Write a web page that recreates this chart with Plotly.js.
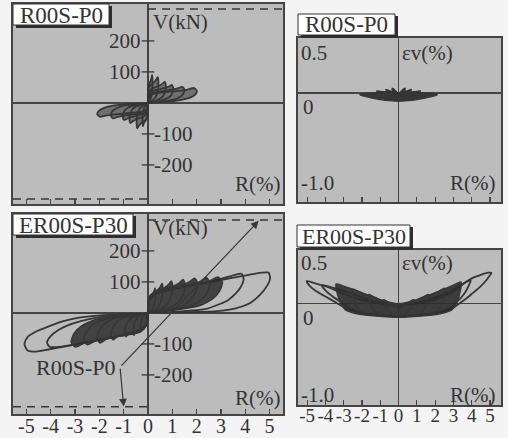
<!DOCTYPE html>
<html>
<head>
<meta charset="utf-8">
<script src="https://cdn.plot.ly/plotly-3.0.1.min.js"></script>
<style>html,body{margin:0;padding:0;background:#f4f4f4;}#plot{width:508px;height:438px;}</style>
</head>
<body>
<div id="plot"></div>
<script>
// ---------- DATA ----------
const xTicks = [-5,-4,-3,-2,-1,0,1,2,3,4,5];
const xTickTextC = ['-5','-4','-3','-2','-1','0','1','2','3','4','5'];
const vTickVals = [200,100,-100,-200];
const vTickText = ['200','100','-100','-200'];
const vTickR = [0,0,0,0];

// Panel A: R00S-P0, V (kN) vs R (%)
const a_R = [
 0,0.004,0.018,0.063,0.117,0.153,0.173,0.184,0.176,0.158,0.126,0.081,0.036,0,-0.004,-0.022,-0.077,-0.143,-0.187,-0.211,-0.224,-0.216,-0.194,-0.154,-0.099,-0.044,0,null,
 0,0.008,0.042,0.147,0.273,0.357,0.403,0.428,0.412,0.37,0.294,0.189,0.084,0,-0.009,-0.046,-0.161,-0.299,-0.391,-0.442,-0.469,-0.451,-0.405,-0.322,-0.207,-0.092,0,null,
 0,0.014,0.072,0.252,0.468,0.612,0.691,0.734,0.706,0.634,0.504,0.324,0.144,0,-0.015,-0.075,-0.263,-0.488,-0.638,-0.72,-0.765,-0.735,-0.66,-0.525,-0.338,-0.15,0,null,
 0,0.02,0.1,0.357,0.663,0.867,0.979,1.04,1.0,0.898,0.714,0.459,0.204,0,-0.02,-0.1,-0.357,-0.663,-0.867,-0.979,-1.04,-1.0,-0.898,-0.714,-0.459,-0.204,0,null,
 0,0.03,0.147,0.515,0.956,1.25,1.41,1.5,1.44,1.29,1.03,0.66,0.29,0,-0.03,-0.15,-0.525,-0.975,-1.275,-1.44,-1.53,-1.47,-1.32,-1.05,-0.675,-0.3,0,null,
 0,0.04,0.197,0.69,1.28,1.67,1.89,2.01,1.93,1.73,1.38,0.89,0.39,0,-0.04,-0.205,-0.718,-1.33,-1.74,-1.97,-2.09,-2.01,-1.8,-1.44,-0.92,-0.41,0
];
const a_V = [
 0,36,54,65,74,83,90,72,50,32,18,9,4,0,-30,-45,-54,-62,-69,-75,-60,-41,-26,-15,-8,-3,0,null,
 0,34,50,60,69,77,84,67,46,29,17,8,3,0,-33,-49,-59,-67,-75,-82,-66,-45,-29,-16,-8,-3,0,null,
 0,27,41,49,56,63,68,54,37,24,14,7,3,0,-26,-39,-47,-53,-60,-65,-52,-36,-23,-13,-7,-3,0,null,
 0,23,35,42,48,53,58,46,32,20,12,6,2,0,-22,-33,-40,-45,-51,-55,-44,-30,-19,-11,-6,-2,0,null,
 0,21,31,37,43,48,52,42,29,18,10,5,2,0,-20,-30,-36,-41,-46,-50,-40,-28,-18,-10,-5,-2,0,null,
 0,19,29,35,39,44,48,38,26,17,10,5,2,0,-18,-27,-32,-37,-41,-45,-36,-25,-16,-9,-5,-2,0
];

// Panel B: R00S-P0, volumetric strain (%) vs R (%)
const b_R = [
 0,0.5,1.0,1.5,1.9,2.12,1.9,1.5,1.0,0.5,0,-0.5,-1.0,-1.5,-1.9,-2.12,-1.9,-1.5,-1.0,-0.5,0,null,
 0,0.6,1.0,1.2,1.0,0.6,0,-0.6,-1.0,-1.2,-1.0,-0.6,0,null,
 0,0.4,0.6,0.7,0.55,0.3,0,-0.3,-0.55,-0.7,-0.6,-0.4,0,null,
 0,0.2,0.32,0.36,0.25,0.1,0,-0.1,-0.25,-0.36,-0.32,-0.2,0
];
const b_E = [
 -0.075,-0.07,-0.06,-0.045,-0.03,-0.015,-0.003,0,0.008,0.012,0,0.012,0.008,0,-0.003,-0.015,-0.03,-0.045,-0.06,-0.07,-0.075,null,
 -0.06,-0.05,-0.03,0.02,0.015,0.005,-0.01,0.005,0.015,0.02,-0.03,-0.05,-0.06,null,
 -0.06,-0.04,-0.01,0.035,0.025,0.01,-0.005,0.01,0.025,0.035,-0.01,-0.04,-0.06,null,
 -0.05,-0.03,0,0.045,0.035,0.01,0,0.01,0.035,0.045,0,-0.03,-0.05
];

// Panel C: ER00S-P30, V (kN) vs R (%) — dense inner cycles
const c_in_R = [
 0,0.006,0.03,0.105,0.195,0.255,0.288,0.306,0.294,0.264,0.21,0.135,0.06,0,-0.006,-0.03,-0.105,-0.195,-0.255,-0.288,-0.306,-0.294,-0.264,-0.21,-0.135,-0.06,0,null,
 0,0.012,0.06,0.21,0.39,0.51,0.576,0.612,0.588,0.528,0.42,0.27,0.12,0,-0.012,-0.06,-0.21,-0.39,-0.51,-0.576,-0.612,-0.588,-0.528,-0.42,-0.27,-0.12,0,null,
 0,0.02,0.1,0.35,0.65,0.85,0.96,1.02,0.98,0.88,0.7,0.45,0.2,0,-0.019,-0.095,-0.333,-0.618,-0.808,-0.912,-0.969,-0.931,-0.836,-0.665,-0.428,-0.19,0,null,
 0,0.03,0.15,0.525,0.975,1.275,1.44,1.53,1.47,1.32,1.05,0.675,0.3,0,-0.03,-0.15,-0.525,-0.975,-1.275,-1.44,-1.53,-1.47,-1.32,-1.05,-0.675,-0.3,0,null,
 0,0.04,0.2,0.7,1.3,1.7,1.92,2.04,1.96,1.76,1.4,0.9,0.4,0,-0.041,-0.205,-0.718,-1.333,-1.743,-1.968,-2.091,-2.009,-1.804,-1.435,-0.923,-0.41,0,null,
 0,0.05,0.25,0.875,1.625,2.125,2.4,2.55,2.45,2.2,1.75,1.125,0.5,0,-0.052,-0.26,-0.91,-1.69,-2.21,-2.496,-2.652,-2.548,-2.288,-1.82,-1.17,-0.52,0,null,
 0,0.06,0.3,1.05,1.95,2.55,2.88,3.06,2.94,2.64,2.1,1.35,0.6,0,-0.062,-0.31,-1.085,-2.015,-2.635,-2.976,-3.162,-3.038,-2.728,-2.17,-1.395,-0.62,0
];
const c_in_V = [
 0,28,44,54,62,71,80,68,48,30,16,8,3,0,-21,-33,-40,-47,-53,-60,-51,-36,-23,-12,-6,-2,0,null,
 0,33,52,64,74,85,95,81,57,36,19,10,4,0,-25,-40,-48,-56,-64,-72,-61,-43,-27,-14,-7,-3,0,null,
 0,36,57,69,80,92,103,88,62,39,21,10,4,0,-27,-42,-52,-60,-69,-77,-65,-46,-29,-15,-8,-3,0,null,
 0,38,59,72,84,96,108,92,65,41,22,11,4,0,-30,-48,-58,-68,-77,-87,-74,-52,-33,-17,-9,-3,0,null,
 0,39,62,75,87,100,112,95,67,43,22,11,4,0,-34,-53,-65,-76,-86,-97,-82,-58,-37,-19,-10,-4,0,null,
 0,40,63,76,89,101,114,97,68,43,23,11,5,0,-36,-57,-69,-80,-92,-103,-88,-62,-39,-21,-10,-4,0,null,
 0,41,64,78,90,103,116,99,70,44,23,12,5,0,-39,-61,-74,-86,-98,-110,-94,-66,-42,-22,-11,-4,0
];
// Panel C: large-amplitude cycles
const c_out_R = [
 0,0.05,0.3,0.9,1.7,2.5,3.1,3.55,3.85,3.93,3.8,3.6,3.3,2.9,2.4,1.7,1.0,0.4,0,
 -0.05,-0.3,-0.9,-1.7,-2.5,-3.2,-3.7,-4.05,-4.15,-4.0,-3.7,-3.3,-2.8,-2.1,-1.4,-0.7,0,null,
 0,0.05,0.3,0.9,1.7,2.6,3.4,4.1,4.6,4.95,5.02,4.9,4.6,4.2,3.6,2.85,2.0,1.0,0,
 -0.05,-0.3,-0.9,-1.7,-2.6,-3.4,-4.1,-4.6,-4.95,-5.08,-4.95,-4.6,-4.1,-3.4,-2.6,-1.8,-1.0,0
];
const c_out_V = [
 0,40,62,75,88,100,112,122,126,108,82,62,42,27,13,7,3,1,0,
 -35,-58,-70,-82,-94,-104,-110,-109,-95,-75,-56,-40,-27,-15,-8,-3,0,null,
 0,40,62,75,88,100,112,122,129,130,112,88,58,32,15,6,3,1,0,
 -35,-58,-70,-82,-96,-108,-118,-125,-121,-100,-78,-60,-44,-25,-13,-7,-3,0
];
const capC_Rpos = [0,5.55], capC_Vpos = [300,300];
const capC_Rneg = [-5.55,0], capC_Vneg = [-303,-303];
const capA_Rpos = [0,5.55], capA_Vpos = [303,303];
const capA_Rneg = [-5.55,0], capA_Vneg = [-310,-310];
const arrowTail = [-1.15,-175];
const arrowHead1 = [4.55,297];
const arrowHead2 = [-1.0,-302];
const refLabelPos = [-3.0,-175];

// Panel D: ER00S-P30, volumetric strain (%) vs R (%)
const d_in_R = [
 0,0.3,0.55,0.75,0.82,0.7,0.45,0.2,0,-0.2,-0.45,-0.7,-0.82,-0.75,-0.55,-0.3,0,null,
 0,0.6,1.2,1.5,1.62,1.4,0.9,0.4,0,-0.4,-0.9,-1.4,-1.62,-1.5,-1.2,-0.6,0,null,
 0,0.9,1.7,2.2,2.45,2.52,2.2,1.5,0.7,0,-0.7,-1.5,-2.2,-2.52,-2.45,-2.2,-1.7,-0.9,0,null,
 0,1.2,2.2,2.9,3.25,3.42,3.0,2.2,1.2,0,-1.2,-2.2,-3.0,-3.42,-3.25,-2.9,-2.2,-1.2,0
];
const d_in_E = [
 -0.12,-0.11,-0.07,-0.01,0.04,0.03,0.0,-0.03,-0.04,-0.03,0.0,0.03,0.04,-0.01,-0.07,-0.11,-0.12,null,
 -0.13,-0.12,-0.09,-0.02,0.09,0.07,0.03,-0.01,-0.02,-0.01,0.03,0.07,0.09,-0.02,-0.09,-0.12,-0.13,null,
 -0.13,-0.12,-0.1,-0.05,0.04,0.15,0.12,0.07,0.02,-0.01,0.02,0.07,0.12,0.14,0.04,-0.05,-0.1,-0.12,-0.13,null,
 -0.13,-0.12,-0.1,-0.06,0.04,0.21,0.18,0.12,0.05,0.0,0.05,0.12,0.17,0.19,0.04,-0.06,-0.1,-0.12,-0.13
];
const d_out_R = [
 0,1.0,2.0,2.8,3.3,3.7,4.1,4.5,4.85,5.08,4.9,4.5,4.05,3.6,3.2,2.6,1.8,1.0,0,
 -1.0,-1.8,-2.6,-3.3,-4.0,-4.6,-5.03,-4.85,-4.5,-4.0,-3.4,-2.8,-2.0,-1.0,0,null,
 0,1.0,2.0,2.7,3.2,3.6,3.85,3.95,3.7,3.2,2.6,1.8,1.0,0,
 -1.0,-1.8,-2.6,-3.3,-3.9,-4.2,-4.0,-3.6,-3.1,-2.6,-2.0,-1.0,0
];
const d_out_E = [
 -0.12,-0.11,-0.09,-0.06,0.0,0.05,0.11,0.17,0.24,0.3,0.3,0.28,0.25,0.2,0.14,0.08,0.03,0.0,-0.02,
 0.0,0.03,0.07,0.12,0.17,0.2,0.22,0.17,0.12,0.07,0.01,-0.05,-0.09,-0.11,-0.12,null,
 -0.12,-0.11,-0.09,-0.05,0.02,0.1,0.18,0.23,0.21,0.16,0.1,0.05,0.01,-0.01,
 0.01,0.05,0.1,0.14,0.17,0.18,0.13,0.07,0.01,-0.05,-0.09,-0.11,-0.12
];

// ---------- STYLE ----------
const INK = '#363636';
const SERIF = '"Liberation Serif", "Times New Roman", Times, "DejaVu Serif", serif';
const W = 508, H = 438;
const px = v => v / W, py = v => 1 - v / H;

function loop(x, y, xa, ya, opts) {
  return Object.assign({
    x: x, y: y, xaxis: xa, yaxis: ya, type: 'scatter', mode: 'lines',
    line: {color: INK, width: 1.8, shape: 'spline', smoothing: 0.7},
    connectgaps: false, hoverinfo: 'skip'
  }, opts || {});
}
function dashed(x, y, xa, ya) {
  return {x: x, y: y, xaxis: xa, yaxis: ya, type: 'scatter', mode: 'lines',
    line: {color: INK, width: 1.5, dash: '8px,6px'}, hoverinfo: 'skip'};
}
function vticks(xa, ya) {
  return {x: vTickR, y: vTickVals, xaxis: xa, yaxis: ya, type: 'scatter', mode: 'markers',
    marker: {symbol: 'line-ew', size: 9, line: {color: INK, width: 1.3}}, hoverinfo: 'skip'};
}

const data = [
  loop(a_R, a_V, 'x', 'y', {fill: 'toself', fillcolor: 'rgba(50,50,50,0.55)'}),
  vticks('x', 'y'),
  dashed(capA_Rpos, capA_Vpos, 'x', 'y'),
  dashed(capA_Rneg, capA_Vneg, 'x', 'y'),
  loop(b_R, b_E, 'x2', 'y2', {fill: 'toself', fillcolor: INK, line: {color: INK, width: 1.2, shape: 'spline', smoothing: 0.6}}),
  loop(c_out_R, c_out_V, 'x3', 'y3'),
  loop(c_in_R, c_in_V, 'x3', 'y3', {fill: 'toself', fillcolor: 'rgba(45,45,45,0.85)', line: {color: INK, width: 1.5, shape: 'spline', smoothing: 0.6}}),
  vticks('x3', 'y3'),
  dashed(capC_Rpos, capC_Vpos, 'x3', 'y3'),
  dashed(capC_Rneg, capC_Vneg, 'x3', 'y3'),
  loop(d_out_R, d_out_E, 'x4', 'y4'),
  loop(d_in_R, d_in_E, 'x4', 'y4', {fill: 'toself', fillcolor: 'rgba(45,45,45,0.9)', line: {color: INK, width: 1.4, shape: 'spline', smoothing: 0.7}})
];

function xax(dom, anchor, labels) {
  return {domain: dom, anchor: anchor, range: [-5.55, 5.55], showgrid: false,
    showline: true, mirror: true, linecolor: '#444', linewidth: 1.6,
    ticks: 'inside', ticklen: 5, tickwidth: 1.2, tickcolor: '#444',
    tickvals: xTicks, ticktext: xTickTextC, showticklabels: labels,
    tickangle: 0, ticklabelstandoff: -7,
    tickfont: {family: SERIF, size: 20, color: '#333'},
    zeroline: true, zerolinecolor: '#444', zerolinewidth: 1.4, fixedrange: true};
}
function yax(dom, anchor, range) {
  return {domain: dom, anchor: anchor, range: range, showgrid: false,
    showline: true, mirror: true, linecolor: '#444', linewidth: 1.6,
    ticks: '', showticklabels: false,
    zeroline: true, zerolinecolor: '#444', zerolinewidth: 1.4, fixedrange: true};
}

const xB = Object.assign(xax([px(298), px(501)], 'y2', false), {range: [-5.5, 5.6]});
const xD = Object.assign(xax([px(298), px(501)], 'y4', true), {range: [-5.5, 5.6]});
xD.tickfont = {family: SERIF, size: 19, color: '#333'};

function txt(xref, yref, x, y, t, anchor, size) {
  return {xref: xref, yref: yref, x: x, y: y, text: t, showarrow: false,
    xanchor: anchor || 'center', yanchor: 'middle',
    font: {family: SERIF, size: size || 21, color: '#333'}};
}

const annotations = [
  // Panel A
  txt('x','y', -0.22, 200, '200', 'right'),
  txt('x','y', -0.22, 100, '100', 'right'),
  txt('x','y', 0.18, -100, '-100', 'left'),
  txt('x','y', 0.18, -200, '-200', 'left'),
  txt('x','y', 0.12, 262, 'V(kN)', 'left'),
  txt('x','y', 5.55, -262, 'R(%)', 'right'),
  // Panel C
  txt('x3','y3', -0.22, 200, '200', 'right'),
  txt('x3','y3', -0.22, 100, '100', 'right'),
  txt('x3','y3', 0.18, -100, '-100', 'left'),
  txt('x3','y3', 0.18, -200, '-200', 'left'),
  txt('x3','y3', 0.12, 275, 'V(kN)', 'left'),
  txt('x3','y3', 5.55, -274, 'R(%)', 'right'),
  txt('x3','y3', refLabelPos[0], refLabelPos[1], 'R00S-P0', 'center', 22),
  {xref:'x3', yref:'y3', axref:'x3', ayref:'y3', x: arrowHead1[0], y: arrowHead1[1], ax: arrowTail[0], ay: arrowTail[1],
   text: '', showarrow: true, arrowhead: 2, arrowsize: 1.3, arrowwidth: 1.2, arrowcolor: INK},
  {xref:'x3', yref:'y3', axref:'x3', ayref:'y3', x: arrowHead2[0], y: arrowHead2[1], ax: arrowTail[0], ay: arrowTail[1],
   text: '', showarrow: true, arrowhead: 2, arrowsize: 1.3, arrowwidth: 1.2, arrowcolor: INK},
  // Panel B
  txt('x2','y2', -5.45, 0.367, '0.5', 'left'),
  txt('x2','y2', -5.35, -0.128, '0', 'left'),
  txt('x2','y2', -5.45, -0.826, '-1.0', 'left'),
  txt('x2','y2', 0.05, 0.367, 'εv(%)', 'left'),
  txt('x2','y2', 5.45, -0.826, 'R(%)', 'right'),
  // Panel D
  txt('x4','y4', -5.45, 0.39, '0.5', 'left'),
  txt('x4','y4', -5.35, -0.136, '0', 'left'),
  txt('x4','y4', -5.45, -0.88, '-1.0', 'left'),
  txt('x4','y4', 0.05, 0.39, 'εv(%)', 'left'),
  txt('x4','y4', 5.45, -0.88, 'R(%)', 'right'),
  // Title boxes
  txt('paper','paper', px(61), py(15), 'R00S-P0', 'center', 23),
  txt('paper','paper', px(73), py(225), 'ER00S-P30', 'center', 23),
  txt('paper','paper', px(346.5), py(25), 'R00S-P0', 'center', 23),
  txt('paper','paper', px(353.5), py(236), 'ER00S-P30', 'center', 22)
];

function box(x0, y0, x1, y1) {
  return [
    {type:'rect', xref:'paper', yref:'paper', x0: px(x0+3), x1: px(x1+3), y0: py(y1+3), y1: py(y0+2), fillcolor: '#2e2e2e', line: {width: 0}},
    {type:'rect', xref:'paper', yref:'paper', x0: px(x0), x1: px(x1), y0: py(y1), y1: py(y0), fillcolor: '#ffffff', line: {color: '#333', width: 1}}
  ];
}
const shapes = [].concat(box(13, 4, 109, 25), box(13, 214, 133, 235), box(298, 14, 395, 35), box(297, 225, 410, 247));

const layout = {
  width: W, height: H,
  margin: {l: 0, r: 0, t: 0, b: 0},
  font: {family: SERIF},
  paper_bgcolor: '#f4f4f4', plot_bgcolor: '#bcbcbc',
  showlegend: false, hovermode: false,
  xaxis: xax([px(13), px(283)], 'y', false),
  yaxis: yax([py(204), py(4)], 'x', [-326, 319]),
  xaxis2: xB,
  yaxis2: yax([py(202), py(38)], 'x2', [-1.0, 0.505]),
  xaxis3: xax([px(13), px(283)], 'y3', true),
  yaxis3: yax([py(414), py(214)], 'x3', [-326, 319]),
  xaxis4: xD,
  yaxis4: yax([py(405), py(250)], 'x4', [-0.98, 0.52]),
  annotations: annotations,
  shapes: shapes
};

Plotly.newPlot('plot', data, layout, {staticPlot: true, displayModeBar: false});
</script>
</body>
</html>
